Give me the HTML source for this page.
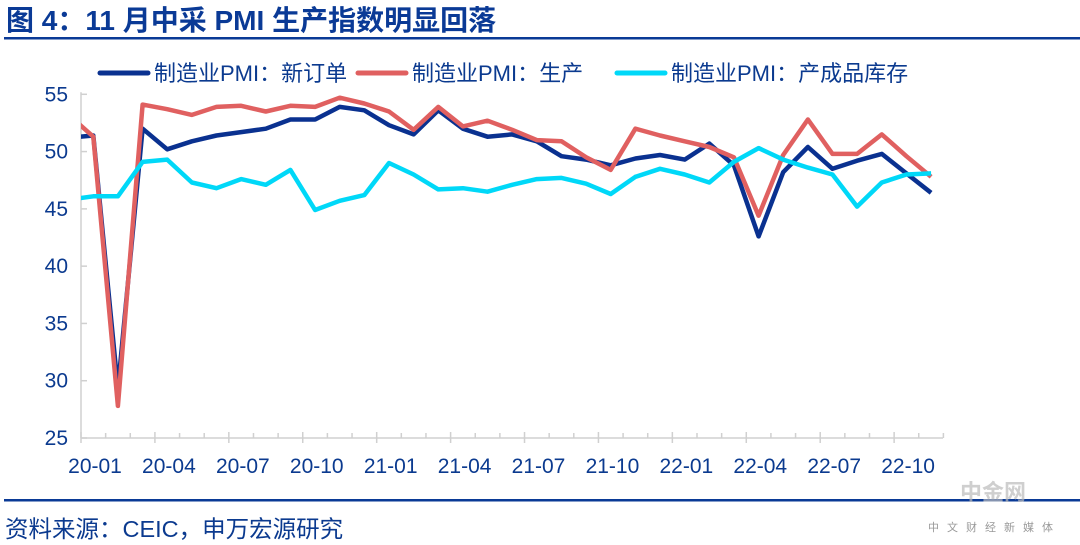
<!DOCTYPE html>
<html><head><meta charset="utf-8">
<style>
body{margin:0;background:#fff;width:1080px;height:545px;overflow:hidden;font-family:"Liberation Sans","Noto Sans CJK SC",sans-serif;}
svg{display:block}
</style></head>
<body>
<svg width="1080" height="545" viewBox="0 0 1080 545" xmlns="http://www.w3.org/2000/svg">
<text x="6" y="30" font-size="28" font-weight="bold" fill="#0a3a96" font-family="Liberation Sans, Noto Sans CJK SC, sans-serif">图 4：11 月中采 PMI 生产指数明显回落</text>
<rect x="4" y="37" width="1076" height="2.5" fill="#0a3a96"/>
<g id="legend" font-size="22" fill="#0b3a8f"></g>
<g id="axes"></g>
<g id="series"></g>
<rect x="4" y="499" width="1076" height="2.5" fill="#0a3a96"/>
<text x="5" y="537" font-size="23.5" fill="#0b3a8f">资料来源：CEIC，申万宏源研究</text>
<text x="960" y="500" font-size="22" fill="#bbb" font-weight="bold" opacity="0.7">中金网</text>
<text x="928" y="531" font-size="11" fill="#999" letter-spacing="8">中文财经新媒体</text>
</svg>
<script>
const categories=["19-12","20-01","20-02","20-03","20-04","20-05","20-06","20-07","20-08","20-09","20-10","20-11","20-12","21-01","21-02","21-03","21-04","21-05","21-06","21-07","21-08","21-09","21-10","21-11","21-12","22-01","22-02","22-03","22-04","22-05","22-06","22-07","22-08","22-09","22-10","22-11"];
const newOrders=[51.2,51.4,29.3,52.0,50.2,50.9,51.4,51.7,52.0,52.8,52.8,53.9,53.6,52.3,51.5,53.6,52.0,51.3,51.5,50.9,49.6,49.3,48.8,49.4,49.7,49.3,50.7,48.8,42.6,48.2,50.4,48.5,49.2,49.8,48.1,46.4];
const production=[53.2,51.3,27.8,54.1,53.7,53.2,53.9,54.0,53.5,54.0,53.9,54.7,54.2,53.5,51.9,53.9,52.2,52.7,51.9,51.0,50.9,49.5,48.4,52.0,51.4,50.9,50.4,49.5,44.4,49.7,52.8,49.8,49.8,51.5,49.6,47.8];
const inventory=[45.8,46.1,46.1,49.1,49.3,47.3,46.8,47.6,47.1,48.4,44.9,45.7,46.2,49.0,48.0,46.7,46.8,46.5,47.1,47.6,47.7,47.2,46.3,47.8,48.5,48.0,47.3,49.1,50.3,49.3,48.6,48.0,45.2,47.3,48.0,48.1];
const yTicks=[25,30,35,40,45,50,55];
const xLabels=["20-01","20-04","20-07","20-10","21-01","21-04","21-07","21-10","22-01","22-04","22-07","22-10"];
const seriesNames=["制造业PMI：新订单","制造业PMI：生产","制造业PMI：产成品库存"];

const NS="http://www.w3.org/2000/svg";
const L=81,R=943,T=94.3,B=438,step=24.64;
const x=i=>L+12.3+(i-1)*step;
const y=v=>B-(v-25)/30*(B-T);
function mk(tag,attrs,parent){const e=document.createElementNS(NS,tag);for(const k in attrs)e.setAttribute(k,attrs[k]);parent.appendChild(e);return e;}
const axes=document.getElementById('axes');
const ax=mk('line',{x1:L,y1:T-2,x2:L,y2:B,stroke:'#d0d0d0','stroke-width':1.5},axes);


const bx=mk('line',{x1:L,y1:B,x2:R,y2:B,stroke:'#d0d0d0','stroke-width':1.5},axes);


yTicks.forEach(v=>{
  mk('line',{x1:L,y1:y(v),x2:L+6,y2:y(v),stroke:'#d0d0d0','stroke-width':1.5},axes);
  const t=mk('text',{x:68,y:y(v)+7,'text-anchor':'end','font-size':21,fill:'#0b3a8f'},axes);
  t.textContent=v;
  
  
});
for(let k=0;k<=35;k++){
  const xx=L+k*step; if(xx>R+1)break;
  const major=k%3===0;
  mk('line',{x1:xx,y1:major?B-6:B-5,x2:xx,y2:major?B+5:B,stroke:'#d0d0d0','stroke-width':1.5},axes);
}
xLabels.forEach((lab,j)=>{
  const t=mk('text',{x:L+j*3*step+14,y:473,'text-anchor':'middle','font-size':21,fill:'#0b3a8f'},axes);
  t.textContent=lab;
  
  
});
const sg=document.getElementById('series');
const defs=mk('defs',{},sg);
const cp=mk('clipPath',{id:'plotclip'},defs);
mk('rect',{x:L,y:0,width:R-L+10,height:B},cp);
const colors=["#0a3190","#e06060","#00d8f8"];
const names=['line-new-orders','line-production','line-inventory'];
[newOrders,production,inventory].forEach((arr,s)=>{
  const pts=arr.map((v,i)=>x(i).toFixed(1)+','+y(v).toFixed(1)).join(' ');
  const p=mk('polyline',{points:pts,fill:'none',stroke:colors[s],'stroke-width':4.5,'stroke-linejoin':'round','clip-path':'url(#plotclip)'},sg);
  
  
});
const lg=document.getElementById('legend');
const lx=[100,358,617];
seriesNames.forEach((n,s)=>{
  const ln=mk('line',{x1:lx[s],y1:73,x2:lx[s]+48,y2:73,stroke:colors[s],'stroke-width':5,'stroke-linecap':'round'},lg);
  
  
  const t=mk('text',{x:lx[s]+54,y:81},lg);
  t.textContent=n;
  
  
});
</script>
</body></html>
